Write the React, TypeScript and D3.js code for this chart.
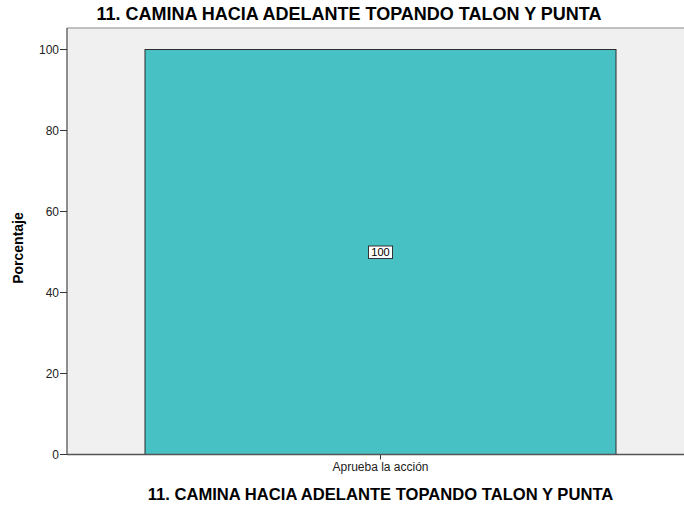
import React from "react";
import * as d3 from "d3";

const title = "11. CAMINA HACIA ADELANTE TOPANDO TALON Y PUNTA";
const categories = ["Aprueba la acción"];
const percentages = [100];
const yTicks = [0, 20, 40, 60, 80, 100];

const App = () => {
  const width = 684;
  const height = 506;
  const margin = { top: 28, right: -10, bottom: 51.5, left: 67 };

  const x = d3
    .scaleBand()
    .domain(categories)
    .range([margin.left, width - margin.right])
    .paddingInner(0)
    .paddingOuter(0.1656);

  const y = d3
    .scaleLinear()
    .domain([0, 100])
    .range([height - margin.bottom, 49.5]);

  const font = "Arial, 'Liberation Sans', sans-serif";

  return (
    <svg
      width={width}
      height={height}
      style={{ position: "absolute", left: 0, top: 0, background: "#fff" }}
      fontFamily={font}
    >
      {/* plot area */}
      <rect
        x={margin.left}
        y={margin.top}
        width={width - margin.left}
        height={y(0) - margin.top}
        fill="#f0f0f0"
      />
      <line x1={margin.left} x2={width} y1={margin.top} y2={margin.top} stroke="#888" strokeWidth={1} />

      <text x={349} y={20} textAnchor="middle" fontWeight="bold" fontSize={18} fill="#000">
        {title}
      </text>

      {categories.map((c, i) => (
        <g key={c}>
          <rect
            x={x(c)}
            y={y(percentages[i])}
            width={x.bandwidth()}
            height={y(0) - y(percentages[i])}
            fill="#48c1c5"
            stroke="#2b2b2b"
            strokeWidth={1}
          />
          <rect
            x={x(c)! + x.bandwidth() / 2 - 12}
            y={y(percentages[i] / 2) - 6}
            width={24}
            height={12.5}
            fill="#fff"
            stroke="#333"
            strokeWidth={1}
          />
          <text
            x={x(c)! + x.bandwidth() / 2}
            y={y(percentages[i] / 2) + 4}
            textAnchor="middle"
            fontSize={11}
            fill="#000"
          >
            {percentages[i]}
          </text>
          <line
            x1={x(c)! + x.bandwidth() / 2}
            x2={x(c)! + x.bandwidth() / 2}
            y1={y(0)}
            y2={y(0) + 5}
            stroke="#333"
          />
          <text
            x={x(c)! + x.bandwidth() / 2}
            y={y(0) + 16}
            textAnchor="middle"
            fontSize={12}
            fill="#222"
          >
            {c}
          </text>
        </g>
      ))}

      {/* y axis */}
      <line x1={margin.left} x2={margin.left} y1={margin.top} y2={y(0)} stroke="#555" strokeWidth={1.3} />
      <line x1={margin.left} x2={width} y1={y(0)} y2={y(0)} stroke="#555" strokeWidth={1.3} />
      {yTicks.map((t) => (
        <g key={t}>
          <line x1={margin.left - 7} x2={margin.left} y1={y(t)} y2={y(t)} stroke="#333" />
          <text x={margin.left - 8} y={y(t) + 4} textAnchor="end" fontSize={12} fill="#222">
            {t}
          </text>
        </g>
      ))}

      <text
        transform={`translate(23, ${y(50) - 4}) rotate(-90)`}
        textAnchor="middle"
        fontWeight="bold"
        fontSize={14}
        fill="#000"
      >
        Porcentaje
      </text>

      <text x={x(categories[0])! + x.bandwidth() / 2} y={500} textAnchor="middle" fontWeight="bold" fontSize={16.6} fill="#000">
        {title}
      </text>
    </svg>
  );
};

export default App;
